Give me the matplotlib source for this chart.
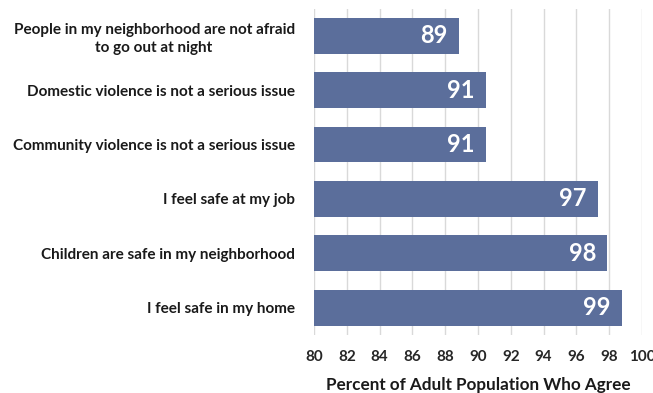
import matplotlib.pyplot as plt

# categories top to bottom
categories = [
    "People in my neighborhood are not afraid\nto go out at night",
    "Domestic violence is not a serious issue",
    "Community violence is not a serious issue",
    "I feel safe at my job",
    "Children are safe in my neighborhood",
    "I feel safe in my home",
]
values = [88.85, 90.5, 90.5, 97.3, 97.9, 98.8]
labels = ["89", "91", "91", "97", "98", "99"]
xticks = list(range(80, 101, 2))

plt.rcParams['font.family'] = ['Lato', 'DejaVu Sans']

fig = plt.figure(figsize=(6.53, 3.93), dpi=100)
ax = fig.add_axes([0.481, 0.148, 0.502, 0.83])

ypos = list(range(len(categories)))[::-1]
ax.barh(ypos, [v - 80 for v in values], left=80, height=0.66,
        color='#5B6E9B', zorder=2)

for y, v, lab in zip(ypos, values, labels):
    ax.text(v - 0.7, y, lab, ha='right', va='center', color='white',
            fontsize=17, fontweight='bold', zorder=3)

ax.set_xlim(80, 100)
ax.set_ylim(-0.5, len(categories) - 0.5)
ax.set_xticks(xticks)
ax.set_xticklabels([str(t) for t in xticks], fontsize=11, fontweight='bold',
                   color='#262626')
ax.set_yticks(ypos)
ax.set_yticklabels(categories, fontsize=11, fontweight='bold', color='#1a1a1a',
                   linespacing=1.35)
for t in ax.get_yticklabels():
    t.set_multialignment('center')
ax.tick_params(axis='y', length=0, pad=14)
ax.tick_params(axis='x', length=0, pad=11)
ax.xaxis.grid(True, color='#d9d9d9', linewidth=1, zorder=0)
for s in ax.spines.values():
    s.set_visible(False)
ax.set_xlabel("Percent of Adult Population Who Agree", fontsize=12.3,
              fontweight='bold', color='#1a1a1a', labelpad=9)

fig.savefig('out.png', dpi=100)
